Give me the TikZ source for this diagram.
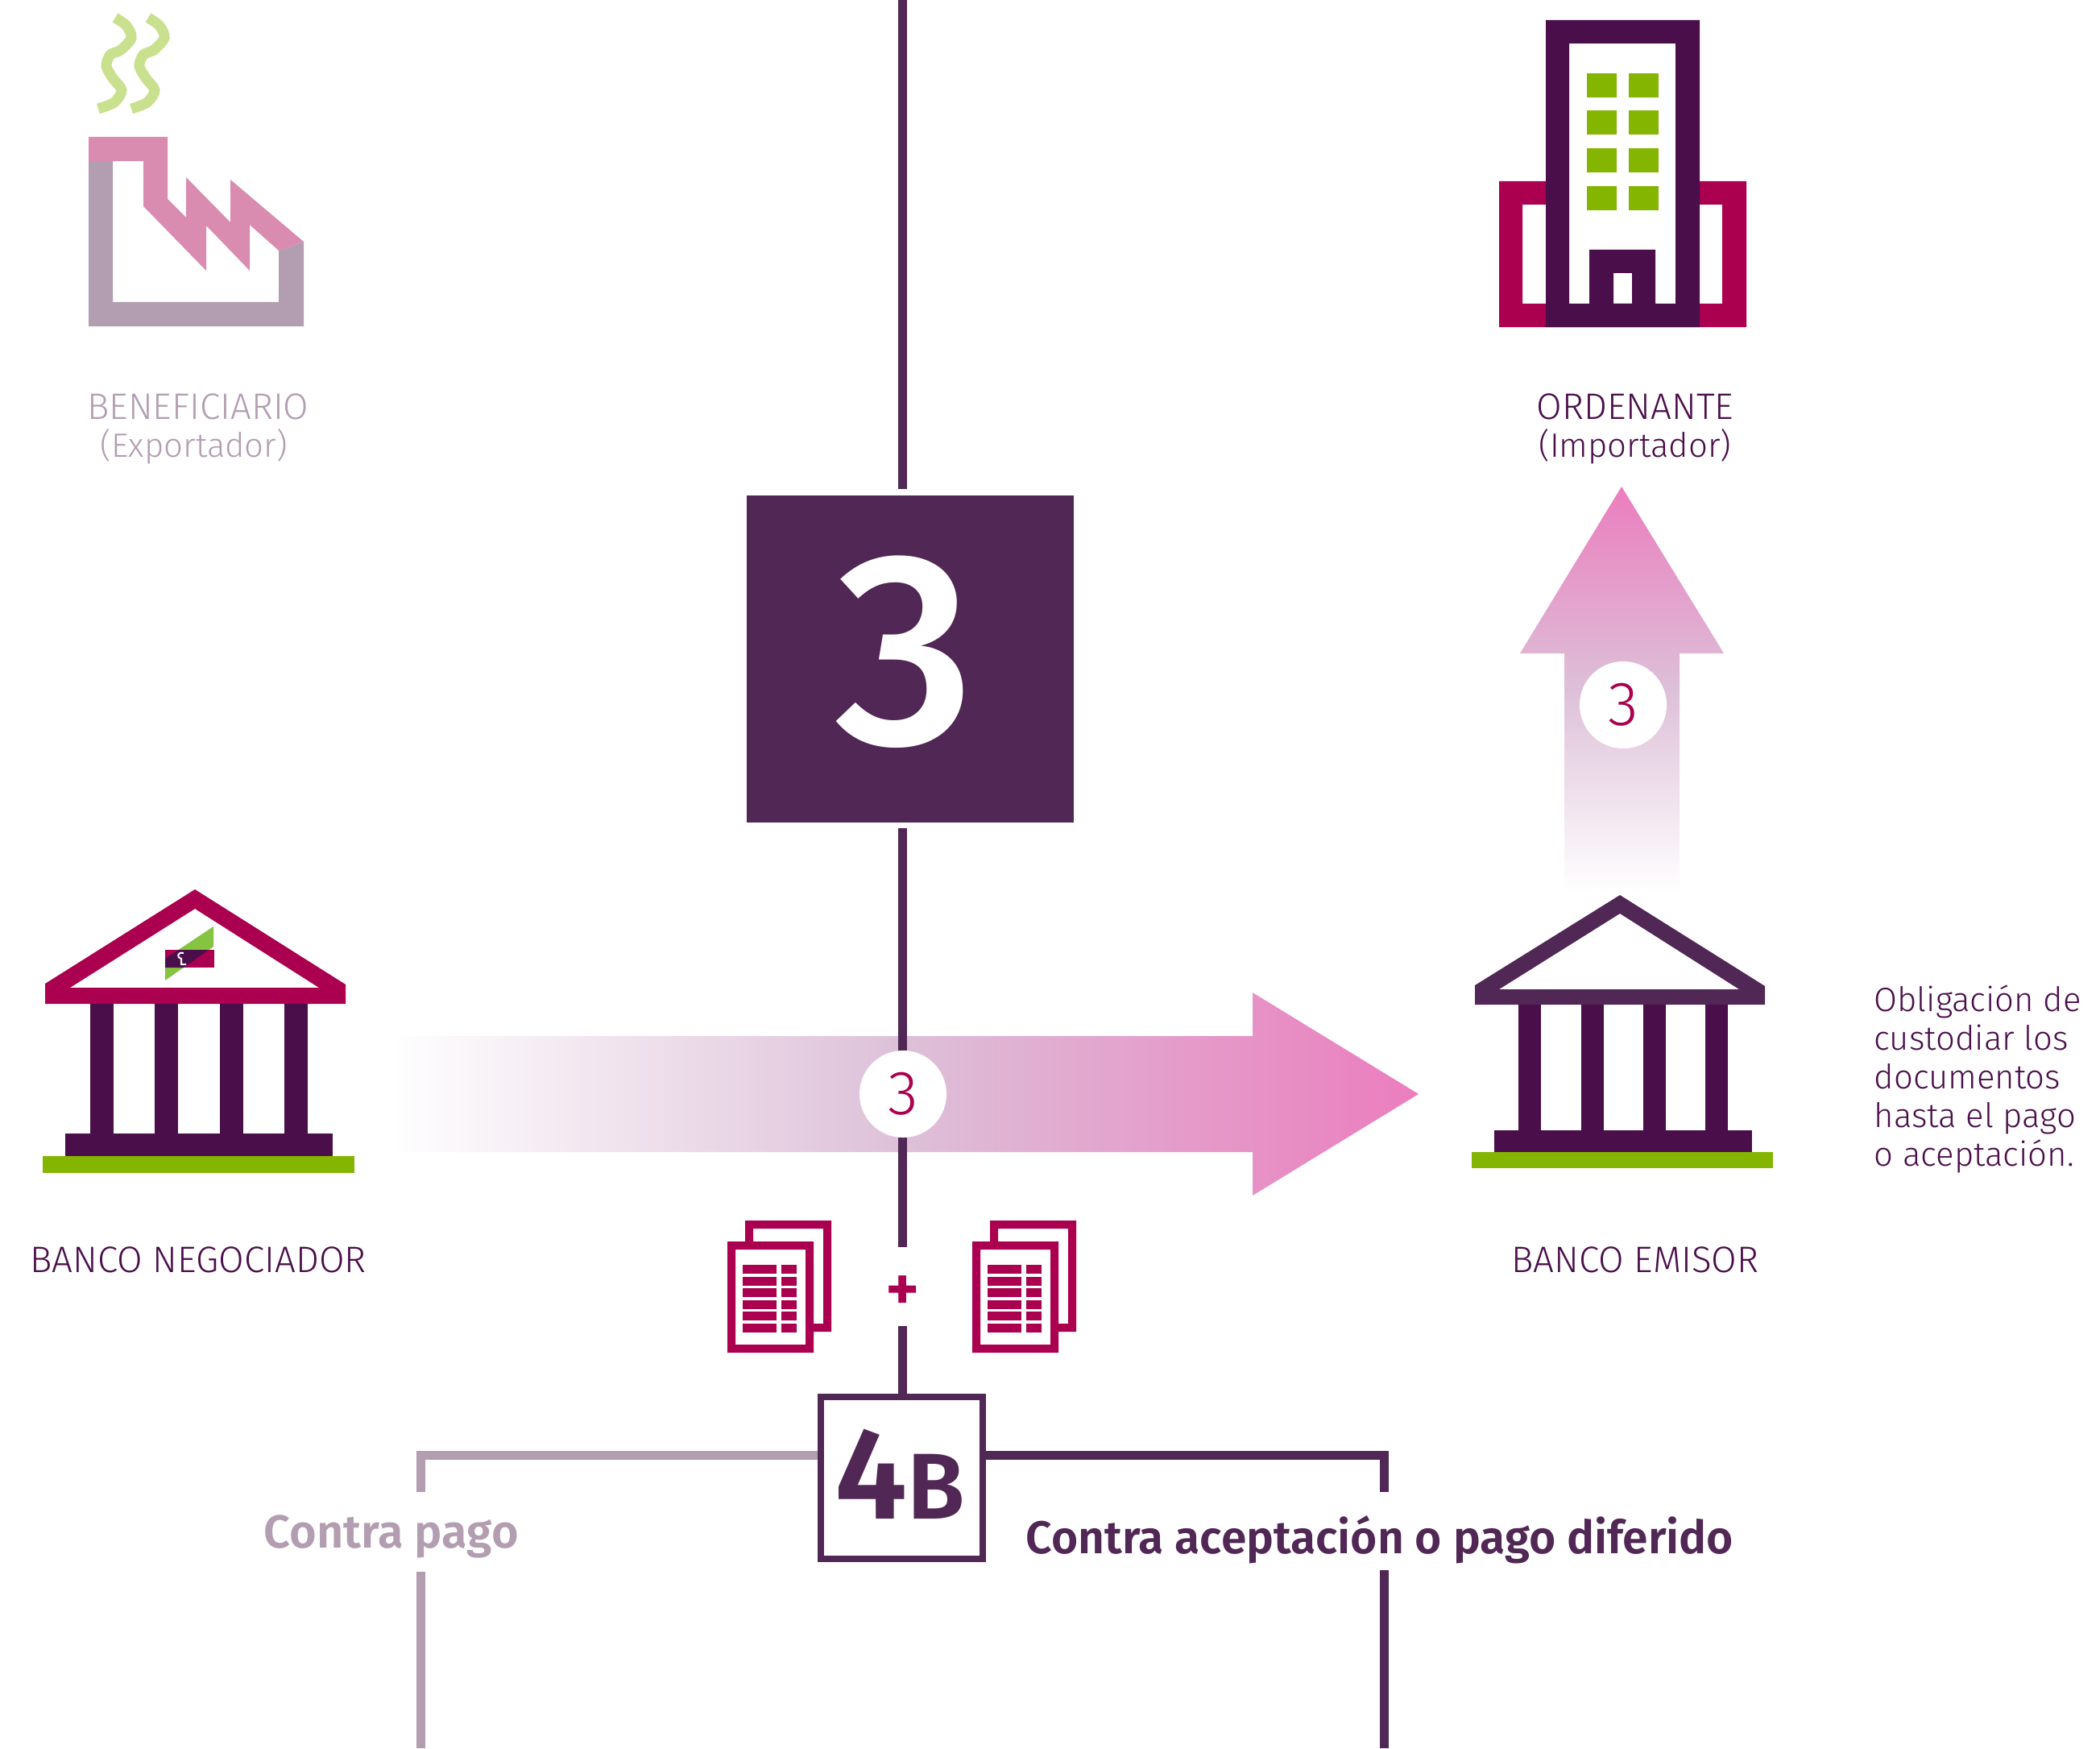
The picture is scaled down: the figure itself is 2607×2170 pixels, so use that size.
\documentclass[tikz,border=0pt]{standalone}
\usepackage{xcolor}
\usepackage{fontspec}
\setmainfont{Fira Sans}[UprightFont=* Light,BoldFont=* SemiBold]
\newfontfamily\medfont{Fira Sans Medium}
\definecolor{plum}{HTML}{4A0E4A}
\definecolor{plumsoft}{HTML}{512755}
\definecolor{crimson}{HTML}{AB004F}
\definecolor{leaf}{HTML}{84B500}
\definecolor{leaflight}{HTML}{C9E08F}
\definecolor{leafmid}{HTML}{85C440}
\definecolor{rose}{HTML}{D98BB0}
\definecolor{mauve}{HTML}{B29DB1}
\definecolor{arrowpink}{HTML}{EB7DBE}
\definecolor{arrowmid}{HTML}{DDC0D8}

\begin{document}
\begin{tikzpicture}[x=0.01cm,y=-0.01cm,
	capstxt/.style={inner sep=0pt,anchor=base,font=\fontsize{13}{14}\selectfont},
	txt/.style={inner sep=0pt,align=center,font=\fontsize{11.9}{13.66}\selectfont},
	bold/.style={inner sep=0pt,anchor=base west,font=\fontsize{16.4}{18}\selectfont\bfseries},
	trunk/.style={plumsoft,line width=0.11cm},
	numdot/.style={circle,fill=white,minimum size=1.08cm,inner sep=0pt,text=crimson,font=\fontsize{22}{22}\selectfont}]
	\useasboundingbox (0,0) rectangle (2607,2170);
	% factory
	\fill [mauve,even odd rule] (110,200) -- (110,405) -- (377,405) -- (377,300) -- (346,311) -- (346,375) -- (140,375) -- (140,200) -- cycle;
	\fill [rose] (110,170) -- (208,170) -- (208,247) -- (231,270) -- (231,220) -- (286,276) -- (286,223) -- (377,300) -- (346,311) -- (310,279) -- (310,336) -- (256,280) -- (256,336) -- (178,256) -- (178,200) -- (110,200) -- cycle;
	\foreach \dx in {0,41}
		\draw [leaflight,line width=0.13cm,xshift=\dx*0.01cm] plot[smooth] coordinates {(143,22) (157,32) (163,47) (150,62) (137,68) (132,82) (140,97) (151,112) (142,127) (122,135)};
	% building
	\fill [crimson,even odd rule] (1861,225) rectangle (2168,406) (1890,254) rectangle (2138,377);
	\fill [white] (1919,25) rectangle (2110,406);
	\fill [plum,even odd rule] (1919,25) rectangle (2110,406) (1948,54) rectangle (2080,377);
	\fill [plum,even odd rule] (1973,310) rectangle (2055,380) (2003,339) rectangle (2026,377);
	\foreach \wy in {91,137,184,231} {
		\fill [leaf] (1970,\wy) rectangle ++(37,30);
		\fill [leaf] (2022,\wy) rectangle ++(37,30);
	}
	% labels top
	\node [capstxt,mauve] (benef) at (246,520) {BENEFICIARIO};
	\node [txt,mauve,anchor=base] (export) at (241,567) {(Exportador)};
	\node [capstxt,plum] (orden) at (2030,520) {ORDENANTE};
	\node [txt,plum,anchor=base] (import) at (2030,567) {(Importador)};
	% big box
	\node [fill=plumsoft,minimum size=4.06cm,inner sep=0pt] (boxthree) at (1130,818) {};
	\node [white,inner sep=0pt,anchor=base,font=\fontsize{97}{97}\selectfont\medfont] (numthree) at (1123,923) {3};
	% arrows
	\shade [left color=white,right color=arrowpink,middle color=arrowmid] (485,1286) -- (1555,1286) -- (1555,1232) -- (1761,1358) -- (1555,1484) -- (1555,1430) -- (485,1430) -- cycle;
	\shade [top color=arrowpink,bottom color=white,middle color=arrowmid] (1942,1107) -- (1942,811) -- (1887,811) -- (2013,604) -- (2140,811) -- (2085,811) -- (2085,1107) -- cycle;
	% central line
	\coordinate (topend) at (1120,0);
	\coordinate (upstop) at (1120,607);
	\coordinate (downstart) at (1120,1028);
	\coordinate (plusup) at (1120,1548);
	\coordinate (plusdown) at (1120,1646);
	\draw [trunk] (topend) -- (upstop);
	\draw [trunk] (downstart) -- (plusup);
	\node [numdot] (dotleft) at (1121,1358) {3};
	\node [numdot] (dotup) at (2015,875) {3};
	% left bank
	\fill [crimson,even odd rule] (56,1221) -- (242,1104) -- (429,1222) -- (429,1246) -- (56,1246) -- cycle (87,1226) -- (242,1128) -- (396,1226) -- cycle;
	\foreach \cx in {112,192,273,353}
		\fill [plum] (\cx,1246) rectangle ++(29,161);
	\fill [plum] (81,1407) rectangle (413,1436);
	\fill [leaf] (53,1435) rectangle (440,1456);
	% logo
	\fill [leafmid] (265,1150) -- (265,1175) -- (205,1217) -- (205,1190) -- cycle;
	\fill [crimson] (205,1179) rectangle (266,1201);
	\fill [plum] (222,1179) -- (259,1179) -- (228,1201) -- (205,1201) -- (205,1190) -- cycle;
	\draw [white,line width=0.02cm] (228,1183) .. controls (220,1181) and (219,1189) .. (225,1190) -- (225,1197) -- (231,1197);
	% right bank
	\fill [plumsoft,even odd rule] (1831,1223) -- (2011,1111) -- (2191,1224) -- (2191,1247) -- (1831,1247) -- cycle (1861,1228) -- (2011,1134) -- (2159,1228) -- cycle;
	\foreach \cx in {1885,1963,2040,2117}
		\fill [plum] (\cx,1247) rectangle ++(28,156);
	\fill [plum] (1855,1403) rectangle (2175,1431);
	\fill [leaf] (1827,1430) rectangle (2201,1450);
	% bank labels
	\node [capstxt,plum] (negoc) at (246,1579) {BANCO NEGOCIADOR};
	\node [capstxt,plum] (emisor) at (2030,1579) {BANCO EMISOR};
	\node [txt,plum,align=left,anchor=north west] (oblig) at (2326,1222) {Obligación de\\custodiar los\\documentos\\hasta el pago\\o aceptación.};
	% documents
	\foreach \dx in {0,304} {
		\begin{scope}[xshift=\dx*0.01cm]
		\fill [crimson,even odd rule] (925,1515) rectangle (1032,1653) (935,1525) rectangle (1022,1643);
		\fill [white] (903,1541) rectangle (1010,1679);
		\fill [crimson,even odd rule] (903,1541) rectangle (1010,1679) (913,1551) rectangle (1000,1669);
		\foreach \ry in {1570,1585,1599,1614,1628,1643} {
			\fill [crimson] (922,\ry) rectangle ++(42,11);
			\fill [crimson] (970,\ry) rectangle ++(19,11);
		}
		\end{scope}
	}
	\node [crimson,inner sep=0pt,font=\fontsize{23}{23}\selectfont\bfseries] (plus) at (1121,1606) {+};
	% 4B box
	\node [draw=plumsoft,line width=0.08cm,fill=white,minimum size=2.01cm,inner sep=0pt] (boxfour) at (1119.5,1834.5) {};
	\node [plumsoft,inner sep=0pt,anchor=base,font=\fontsize{46}{46}\selectfont\bfseries] (numfour) at (1117,1885) {4\fontsize{33}{33}\selectfont B};
	\draw [trunk] (plusdown) -- (plusdown |- boxfour.north);
	\coordinate (leftin) at (1015,1806);
	\coordinate (rightin) at (1224,1806);
	\coordinate (leftup) at (522,1852);
	\coordinate (leftlow) at (522,1951);
	\coordinate (leftbot) at (522,2170);
	\coordinate (rightup) at (1718,1852);
	\coordinate (rightlow) at (1718,1949);
	\coordinate (rightbot) at (1718,2170);
	\draw [trunk,mauve] (leftup) |- (leftin);
	\draw [trunk,mauve] (leftlow) -- (leftbot);
	\draw [trunk] (rightup) |- (rightin);
	\draw [trunk] (rightlow) -- (rightbot);
	\node [bold,mauve] (contrapago) at (327,1921) {Contra pago};
	\node [bold,plumsoft,font=\fontsize{16.2}{18}\selectfont\bfseries] (contraacep) at (1273,1928) {Contra aceptación o pago diferido};
\end{tikzpicture}
\end{document}
